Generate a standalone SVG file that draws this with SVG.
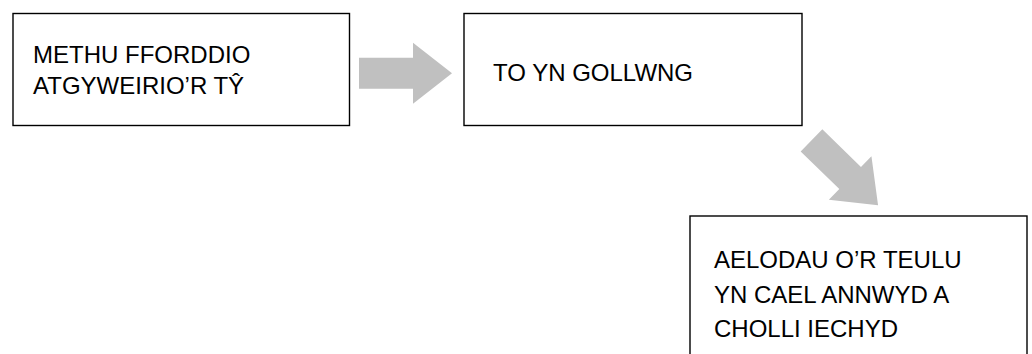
<svg xmlns="http://www.w3.org/2000/svg" width="1032" height="354" viewBox="0 0 1032 354">
<defs>
<style>
.box{fill:#fff;stroke:#000;stroke-width:1.4}
.lbl{font-family:"Liberation Sans",Arial,sans-serif;font-size:24px;fill:#000}
.arr{fill:#c0c0c0;stroke:none}
</style>
<path id="blockArrow" d="M0,-15.5 L54,-15.5 L54,-30.5 L93,0 L54,30.5 L54,15.5 L0,15.5 Z"/>
</defs>
<rect width="1032" height="354" fill="#fff"/>
<g id="connectors">
<use href="#blockArrow" class="arr" transform="translate(359,73.3)"/>
<use href="#blockArrow" class="arr" transform="translate(811.5,140.3) rotate(44.3)"/>
</g>
<g id="node1">
<rect class="box" x="13" y="13.5" width="336.5" height="112"/>
<text class="lbl" x="33" y="63">METHU FFORDDIO</text>
<text class="lbl" x="33" y="94">ATGYWEIRIO’R TŶ</text>
</g>
<g id="node2">
<rect class="box" x="464" y="13.5" width="338" height="112"/>
<text class="lbl" x="493" y="81">TO YN GOLLWNG</text>
</g>
<g id="node3">
<rect class="box" x="690" y="216" width="337" height="160"/>
<text class="lbl" x="714" y="268">AELODAU O’R TEULU</text>
<text class="lbl" x="714" y="302.5">YN CAEL ANNWYD A</text>
<text class="lbl" x="714" y="337">CHOLLI IECHYD</text>
</g>
</svg>
